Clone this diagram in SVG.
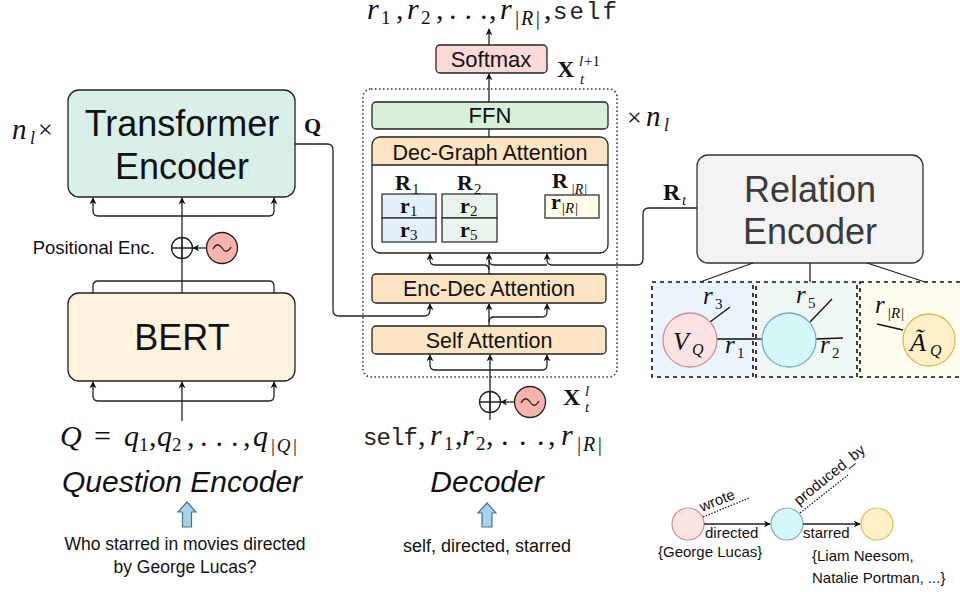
<svg xmlns="http://www.w3.org/2000/svg" width="960" height="592" viewBox="0 0 960 592">
<defs>
<marker id="ah" viewBox="0 0 10 10" refX="9" refY="5" markerWidth="7" markerHeight="7" orient="auto" markerUnits="userSpaceOnUse"><path d="M0,0 L10,5 L0,10 L3,5 Z" fill="#111"/></marker>
<style>
.box{stroke:#222;stroke-width:1.3}
.ln{fill:none;stroke:#222;stroke-width:1.3}
.arr{fill:none;stroke:#222;stroke-width:1.3;marker-end:url(#ah)}
.sans{font-family:"Liberation Sans",Arial,sans-serif;fill:#111}
.mi{font-family:"Liberation Serif","Times New Roman",serif;font-style:italic;fill:#111}
.mr{font-family:"Liberation Serif","Times New Roman",serif;fill:#111}
.mb{font-family:"Liberation Serif","Times New Roman",serif;font-weight:bold;fill:#111}
.tt{font-family:"Liberation Mono","Courier New",monospace;fill:#222}
.dash{stroke:#111;stroke-width:1.6;stroke-dasharray:4,4}
</style>
</defs>
<rect width="960" height="592" fill="#ffffff"/>

<!-- Question encoder -->
<g id="transformer-encoder">
<rect class="box" x="68" y="90" width="227" height="107" rx="11" fill="#d9efe9"/>
<text class="sans" x="182" y="136" font-size="36" text-anchor="middle">Transformer</text>
<text class="sans" x="182" y="179" font-size="36" text-anchor="middle">Encoder</text>
</g>
<g id="nl-left">
<text class="mi" x="12" y="139" font-size="29">n</text>
<text class="mi" x="30" y="144" font-size="18">l</text>
<text class="mr" x="38" y="138" font-size="26">×</text>
</g>
<g id="bert">
<rect class="box" x="68" y="293" width="227" height="88" rx="11" fill="#fdf3dc"/>
<text class="sans" x="182" y="350" font-size="36" text-anchor="middle">BERT</text>
</g>
<g id="pos-enc-q">
<text class="sans" x="155" y="254" font-size="18.5" text-anchor="end">Positional Enc.</text>
<circle cx="182" cy="248" r="10.5" fill="#fff" stroke="#222" stroke-width="1.3"/>
<path class="ln" d="M171.5,248 H192.5 M182,237.5 V258.5"/>
<circle cx="222" cy="248" r="15.5" fill="#f8b4ab" stroke="#222" stroke-width="1.3"/>
<path class="ln" d="M213,249 Q217.5,241 222,248 Q226.5,255 231,247"/>
</g>
<g id="q-seq">
<text class="mi" x="60" y="446" font-size="30">Q</text>
<text class="mr" x="94" y="446" font-size="30">=</text>
<text class="mi" x="124" y="446" font-size="30">q</text>
<text class="mr" x="139" y="451" font-size="19">1</text>
<text class="mr" x="149" y="446" font-size="30">,</text>
<text class="mi" x="157" y="446" font-size="30">q</text>
<text class="mr" x="172" y="451" font-size="19">2</text>
<text class="mr" x="187" y="446" font-size="30">,</text>
<text class="mr" x="200" y="446" font-size="30" letter-spacing="8">...</text>
<text class="mr" x="243" y="446" font-size="30">,</text>
<text class="mi" x="253" y="446" font-size="30">q</text>
<text class="mi" x="270" y="452" font-size="19" letter-spacing="1.5">|Q|</text>
</g>
<g id="question-encoder-label">
<text class="sans" x="182" y="492" font-size="30" font-style="italic" text-anchor="middle">Question Encoder</text>
<path d="M187,502 L196,512 L191.5,512 L191.5,527 L182.5,527 L182.5,512 L178,512 Z" fill="#a9d3ec" stroke="#4f6f85" stroke-width="1.2"/>
<text class="sans" x="185" y="550" font-size="17.5" text-anchor="middle">Who starred in movies directed</text>
<text class="sans" x="185" y="573" font-size="17.5" text-anchor="middle">by George Lucas?</text>
</g>
<g id="q-label">
<text class="mb" x="304" y="133" font-size="22">Q</text>
</g>

<!-- Decoder -->
<g id="decoder-stack">
<rect x="363" y="89" width="254" height="288" rx="8" fill="none" stroke="#333" stroke-width="1.5" stroke-dasharray="1.5,2.5"/>
</g>
<g id="softmax">
<rect class="box" x="436" y="45" width="111" height="28" rx="4" fill="#fcd9d9"/>
<text class="sans" x="491" y="67" font-size="22" text-anchor="middle">Softmax</text>
</g>
<g id="ffn">
<rect class="box" x="372" y="102" width="236" height="27" rx="4" fill="#d7efd9"/>
<text class="sans" x="490" y="123" font-size="22" text-anchor="middle">FFN</text>
</g>
<g id="dec-graph-attention">
<rect x="372" y="137" width="236" height="116" rx="8" fill="#fff"/>
<path d="M372,165 V145 Q372,137 380,137 H600 Q608,137 608,145 V165 Z" fill="#fde4c3"/>
<line x1="372" y1="165" x2="608" y2="165" stroke="#222" stroke-width="1.3"/>
<rect x="372" y="137" width="236" height="116" rx="8" fill="none" stroke="#222" stroke-width="1.3"/>
<text class="sans" x="490" y="160" font-size="21.5" text-anchor="middle">Dec-Graph Attention</text>
<text class="mb" x="395" y="190" font-size="22">R</text><text class="mr" x="412" y="194" font-size="15">1</text>
<text class="mb" x="457" y="190" font-size="22">R</text><text class="mr" x="474" y="194" font-size="15">2</text>
<text class="mb" x="552" y="188" font-size="22">R</text><text class="mi" x="571" y="194" font-size="14">|R|</text>
<rect x="382" y="194" width="54" height="24" fill="#e4f0fb" stroke="#222" stroke-width="1.2"/>
<rect x="382" y="218" width="54" height="24" fill="#e4f0fb" stroke="#222" stroke-width="1.2"/>
<rect x="442" y="194" width="55" height="24" fill="#e8f4ec" stroke="#222" stroke-width="1.2"/>
<rect x="442" y="218" width="55" height="24" fill="#e8f4ec" stroke="#222" stroke-width="1.2"/>
<rect x="545" y="195" width="54" height="23" fill="#fffde9" stroke="#222" stroke-width="1.2"/>
<text class="mb" x="400" y="213" font-size="22">r</text><text class="mr" x="410" y="216" font-size="15">1</text>
<text class="mb" x="400" y="237" font-size="22">r</text><text class="mr" x="410" y="240" font-size="15">3</text>
<text class="mb" x="460" y="213" font-size="22">r</text><text class="mr" x="470" y="216" font-size="15">2</text>
<text class="mb" x="460" y="237" font-size="22">r</text><text class="mr" x="470" y="240" font-size="15">5</text>
<text class="mb" x="551" y="209" font-size="22">r</text><text class="mi" x="561" y="213" font-size="15">|R|</text>
</g>
<g id="enc-dec-attention">
<rect class="box" x="372" y="274" width="234" height="29" rx="4" fill="#fde4c3"/>
<text class="sans" x="489" y="296" font-size="21.5" text-anchor="middle">Enc-Dec Attention</text>
</g>
<g id="self-attention">
<rect class="box" x="372" y="326" width="234" height="28" rx="4" fill="#fde4c3"/>
<text class="sans" x="489" y="348" font-size="21.5" text-anchor="middle">Self Attention</text>
</g>
<g id="nl-right">
<text class="mr" x="627" y="126" font-size="26">×</text>
<text class="mi" x="646" y="126" font-size="29">n</text>
<text class="mi" x="664" y="131" font-size="18">l</text>
</g>
<g id="x-out-label">
<text class="mb" x="557" y="77" font-size="24">X</text>
<text class="mi" x="579" y="66" font-size="15">l</text><text class="mr" x="584" y="66" font-size="15">+1</text>
<text class="mi" x="580" y="84" font-size="15">t</text>
</g>
<g id="output-seq">
<text class="mi" x="367" y="19" font-size="30">r</text>
<text class="mr" x="381" y="24" font-size="19">1</text>
<text class="mr" x="396" y="19" font-size="30">,</text>
<text class="mi" x="407" y="19" font-size="30">r</text>
<text class="mr" x="421" y="24" font-size="19">2</text>
<text class="mr" x="436" y="19" font-size="30">,</text>
<text class="mr" x="449" y="19" font-size="30" letter-spacing="8">...</text>
<text class="mr" x="489" y="19" font-size="30">,</text>
<text class="mi" x="500" y="19" font-size="30">r</text>
<text class="mi" x="514" y="25" font-size="20" letter-spacing="1.5">|R|</text>
<text class="mr" x="544" y="19" font-size="30">,</text>
<text class="tt" x="553" y="19" font-size="24" textLength="64" lengthAdjust="spacing">self</text>
</g>
<g id="pos-enc-d">
<circle cx="490" cy="402" r="10.5" fill="#fff" stroke="#222" stroke-width="1.3"/>
<path class="ln" d="M479.5,402 H500.5 M490,391.5 V412.5"/>
<circle cx="530" cy="402" r="15.5" fill="#f8b4ab" stroke="#222" stroke-width="1.3"/>
<path class="ln" d="M521,403 Q525.5,395 530,402 Q534.5,409 539,401"/>
<text class="mb" x="563" y="405" font-size="24">X</text>
<text class="mi" x="585" y="396" font-size="15">l</text>
<text class="mi" x="585" y="412" font-size="15">t</text>
</g>
<g id="decoder-seq">
<text class="tt" x="363" y="445" font-size="24" textLength="55" lengthAdjust="spacing">self</text>
<text class="mr" x="418" y="445" font-size="30">,</text>
<text class="mi" x="430" y="445" font-size="30">r</text>
<text class="mr" x="444" y="450" font-size="19">1</text>
<text class="mr" x="455" y="445" font-size="30">,</text>
<text class="mi" x="462" y="445" font-size="30">r</text>
<text class="mr" x="476" y="450" font-size="19">2</text>
<text class="mr" x="486" y="445" font-size="30">,</text>
<text class="mr" x="501" y="445" font-size="30" letter-spacing="10.5">...</text>
<text class="mr" x="548" y="445" font-size="30">,</text>
<text class="mi" x="561" y="445" font-size="30">r</text>
<text class="mi" x="576" y="451" font-size="20" letter-spacing="1.5">|R|</text>
</g>
<g id="decoder-label">
<text class="sans" x="487" y="492" font-size="30" font-style="italic" text-anchor="middle">Decoder</text>
<path d="M487,503 L496,513 L492,513 L492,527 L482,527 L482,513 L478,513 Z" fill="#a9d3ec" stroke="#4f6f85" stroke-width="1.2"/>
<text class="sans" x="487" y="552" font-size="18" text-anchor="middle">self, directed, starred</text>
</g>

<!-- Relation encoder -->
<g id="relation-encoder">
<rect x="697" y="155" width="226" height="108" rx="11" fill="#f3f3f3" stroke="#333" stroke-width="1.3"/>
<text class="sans" x="810" y="202" font-size="36" text-anchor="middle" style="fill:#3a3a3a">Relation</text>
<text class="sans" x="810" y="244" font-size="36" text-anchor="middle" style="fill:#3a3a3a">Encoder</text>
</g>
<g id="rt-label">
<text class="mb" x="663" y="200" font-size="24">R</text>
<text class="mi" x="682" y="205" font-size="15">t</text>
</g>
<g id="subgraph-1">
<rect class="dash" x="652" y="282" width="101" height="95" fill="#eaf4fd"/>
<line x1="710" y1="322" x2="730" y2="307" stroke="#111" stroke-width="1.3"/>
<line x1="717" y1="339" x2="762" y2="339" stroke="#111" stroke-width="1.3"/>
<circle cx="690" cy="340" r="27" fill="#fde4e4" stroke="#d98a8a" stroke-width="1.3"/>
<text class="mi" x="673" y="350" font-size="26">V</text><text class="mi" x="692" y="355" font-size="16">Q</text>
<text class="mi" x="703" y="304" font-size="25">r</text><text class="mr" x="715" y="309" font-size="15">3</text>
<text class="mi" x="725" y="353" font-size="25">r</text><text class="mr" x="737" y="358" font-size="15">1</text>
</g>
<g id="subgraph-2">
<rect class="dash" x="756" y="282" width="101" height="95" fill="#eef7f1"/>
<line x1="810" y1="322" x2="832" y2="299" stroke="#111" stroke-width="1.3"/>
<line x1="815" y1="339" x2="843" y2="338" stroke="#111" stroke-width="1.3"/>
<line x1="756" y1="339" x2="762" y2="339" stroke="#111" stroke-width="1.3"/>
<circle cx="789" cy="340" r="27" fill="#d4f8f8" stroke="#7aa8d0" stroke-width="1.3"/>
<text class="mi" x="796" y="303" font-size="25">r</text><text class="mr" x="808" y="308" font-size="15">5</text>
<text class="mi" x="820" y="353" font-size="25">r</text><text class="mr" x="832" y="358" font-size="15">2</text>
</g>
<g id="subgraph-3">
<rect class="dash" x="860" y="282" width="102" height="95" fill="#fffcee"/>
<line x1="877" y1="324" x2="903" y2="330" stroke="#111" stroke-width="1.3"/>
<circle cx="929" cy="340" r="26" fill="#fff0c8" stroke="#e0b84a" stroke-width="1.3"/>
<text class="mi" x="910" y="351" font-size="26">Ã</text><text class="mi" x="930" y="356" font-size="16">Q</text>
<text class="mi" x="875" y="313" font-size="25">r</text><text class="mi" x="887" y="318" font-size="15">|R|</text>
</g>

<!-- Example graph -->
<g id="ex-george">
<circle cx="688" cy="524" r="16" fill="#fde4e4" stroke="#d98a8a" stroke-width="1.2"/>
<text class="sans" x="658" y="557" font-size="15">{George Lucas}</text>
</g>
<g id="ex-movies">
<circle cx="787" cy="524" r="16" fill="#d4f8f8" stroke="#7aa8d0" stroke-width="1.2"/>
</g>
<g id="ex-actors">
<circle cx="877" cy="524" r="16" fill="#fff0c8" stroke="#e0b84a" stroke-width="1.2"/>
<text class="sans" x="812" y="561" font-size="15">{Liam Neesom,</text>
<text class="sans" x="812" y="583" font-size="15">Natalie Portman, ...}</text>
</g>

<!-- Connectors -->
<g id="connectors">
<path class="arr" d="M182,293 V198"/>
<path class="arr" d="M182,216 H98 Q93,216 93,211 V198"/>
<path class="arr" d="M182,216 H269 Q274,216 274,211 V198"/>
<path class="ln" d="M93,293 V286 Q93,281 98,281 H269 Q274,281 274,286 V293"/>
<path class="arr" d="M207,248 H193"/>
<path class="arr" d="M182,421 V382"/>
<path class="arr" d="M182,401 H98 Q93,401 93,396 V382"/>
<path class="arr" d="M182,401 H269 Q274,401 274,396 V382"/>
<path class="arr" d="M295,144 H327 Q333,144 333,150 V310 Q333,316 339,316 H424 Q430,316 430,310 V304"/>
<path class="arr" d="M489,326 V304"/>
<path class="arr" d="M489,322 Q489,317 494,317 H542 Q547,317 547,312 V304"/>
<path class="arr" d="M489,274 V254"/>
<path class="arr" d="M489,270 Q489,265 484,265 H435 Q430,265 430,260 V254"/>
<path class="arr" d="M697,208 H649 Q643,208 643,214 V259 Q643,265 637,265 H552 Q547,265 547,260 V254"/>
<path class="ln" d="M547,265 H494 Q489,265 489,260"/>
<path class="ln" d="M489,137 V129"/>
<path class="arr" d="M489,102 V74"/>
<path class="arr" d="M489,45 V29"/>
<path class="arr" d="M490,420 V355"/>
<path class="arr" d="M490,370 H435 Q430,370 430,365 V355"/>
<path class="arr" d="M490,370 H542 Q547,370 547,365 V355"/>
<path class="arr" d="M514,402 H501"/>
<path class="ln" d="M753,263 L700,282 M810,263 V282 M867,263 L925,282"/>
<path class="arr" d="M704,524 H770"/>
<path class="arr" d="M803,524 H860"/>
<path d="M703,517 L749,498" fill="none" stroke="#111" stroke-width="1.2" stroke-dasharray="1.5,1.5"/>
<path d="M800,513 L848,475" fill="none" stroke="#111" stroke-width="1.2" stroke-dasharray="1.5,1.5"/>
<text class="sans" x="705" y="538" font-size="15">directed</text>
<text class="sans" x="803" y="538" font-size="15">starred</text>
<text class="sans" x="702" y="512" font-size="15" transform="rotate(-22 702 512)">wrote</text>
<text class="sans" x="799" y="506" font-size="15" transform="rotate(-39 799 506)">produced_by</text>
</g>
</svg>
